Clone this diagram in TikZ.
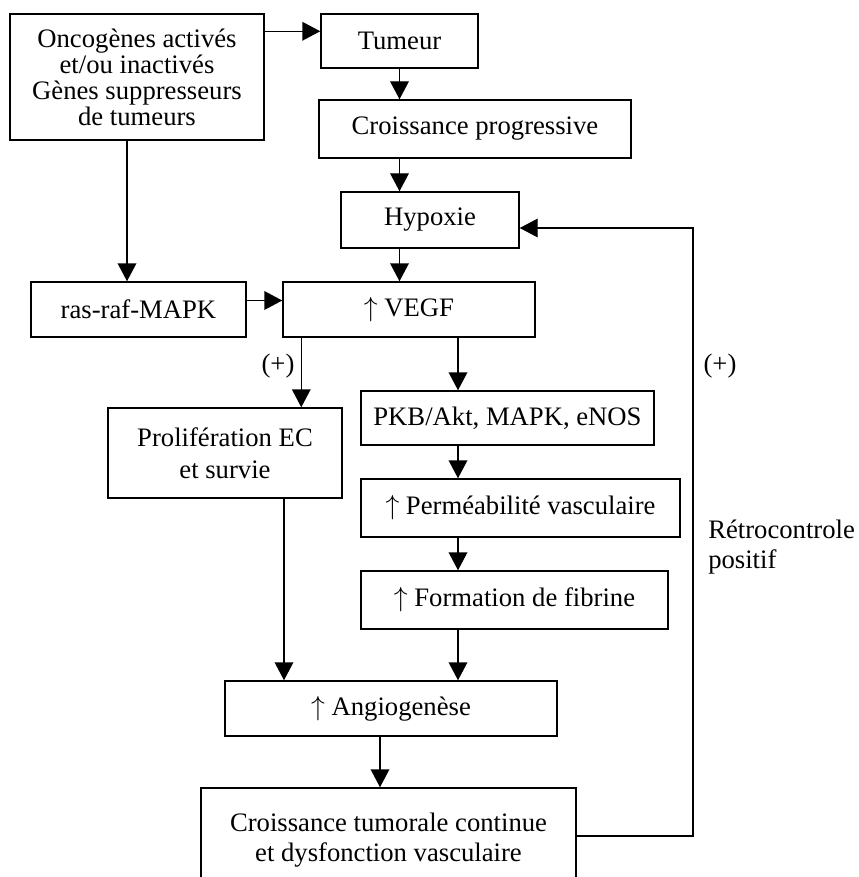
\documentclass[tikz,border=0pt]{standalone}
\usepackage{fontspec}
\setmainfont{Liberation Serif}
\usetikzlibrary{calc}
\usetikzlibrary{arrows.meta}

\begin{document}
\begin{tikzpicture}[x=0.75pt,y=-0.75pt,
        norm/.style={draw=black,rectangle,line width=1.1pt,inner sep=0pt,align=center,font=\fontsize{20}{19.5}\selectfont},
        arr/.style={-{Triangle[length=13.5pt,width=14pt]},line width=1.1pt},
        lbl/.style={inner sep=0pt,align=left,font=\fontsize{20}{22.5}\selectfont}
      ]
      \useasboundingbox (0,0) rectangle (859,877);
      \node[norm,minimum width=190.5pt,minimum height=94.5pt] (onc) at (137,77) {Oncogènes activés\\et/ou inactivés\\Gènes suppresseurs\\de tumeurs};
      \node[norm,minimum width=117.75pt,minimum height=40.5pt] (tum) at (399.5,41) {Tumeur};
      \node[norm,minimum width=234pt,minimum height=43.5pt] (crp) at (475,129) {Croissance progressive};
      \node[norm,minimum width=133.5pt,minimum height=42pt] (hyp) at (430,220) {Hypoxie};
      \node[norm,minimum width=161.25pt,minimum height=41.25pt] (ras) at (138.5,309.5) {ras-raf-MAPK};
      \node[norm,minimum width=189pt,minimum height=41.25pt] (vegf) at (409,309.5) {$\uparrow$ VEGF};
      \node[norm,minimum width=175.5pt,minimum height=67.5pt,font=\fontsize{20}{24}\selectfont] (pro) at (225,453) {Prolifération EC\\et survie};
      \node[norm,minimum width=219.75pt,minimum height=40.5pt] (pkb) at (507.5,418) {PKB/Akt, MAPK, eNOS};
      \node[norm,minimum width=239.25pt,minimum height=43.5pt] (perm) at (520.5,508) {$\uparrow$ Perméabilité vasculaire};
      \node[norm,minimum width=230.25pt,minimum height=43.5pt] (fib) at (514.5,600) {$\uparrow$ Formation de fibrine};
      \node[norm,minimum width=249pt,minimum height=41.25pt] (ang) at (391,708.5) {$\uparrow$ Angiogenèse};
      \node[norm,minimum width=281.25pt,minimum height=78pt,font=\fontsize{20}{23}\selectfont] (fin) at (388.5,840) {Croissance tumorale continue\\et dysfonction vasculaire};
      % Labels.
      \node[lbl] (p1) at (278,366) {(+)};
      \node[lbl] (p2) at (720,366) {(+)};
      \node[lbl,anchor=west] (retro) at (708,547) {Rétrocontrole\\positif};
      % Connections.
      \draw[arr] ($(onc.north east)+(0,18)$) coordinate (o1) -- (o1 -| tum.west);
      \draw[arr] (tum.south) -- (tum.south |- crp.north);
      \draw[arr] (crp.south -| tum.south) -- (tum.south |- hyp.north);
      \draw[arr] (hyp.south -| tum.south) -- (tum.south |- vegf.north);
      \draw[arr] ($(onc.south)+(-10,0)$) coordinate (o2) -- (o2 |- ras.north);
      \draw[arr] ($(ras.east)+(0,-9)$) coordinate (r1) -- (r1 -| vegf.west);
      \draw[arr] ($(vegf.south west)+(19,0)$) coordinate (v1) -- (v1 |- pro.north);
      \draw[arr] ($(vegf.south)+(49,0)$) coordinate (v2) -- (v2 |- pkb.north);
      \draw[arr] (pkb.south -| v2) -- (v2 |- perm.north);
      \draw[arr] (perm.south -| v2) -- (v2 |- fib.north);
      \draw[arr] (fib.south -| v2) -- (v2 |- ang.north);
      \draw[arr] ($(pro.south)+(59,0)$) coordinate (p3) -- (p3 |- ang.north);
      \draw[arr] ($(ang.south)+(-11,0)$) coordinate (a1) -- (a1 |- fin.north);
      % Feedback loop.
      \coordinate (fb) at (693,836);
      \draw[arr] (fin.east |- fb) -- (fb) |- ($(hyp.east)+(0,8)$);
    \end{tikzpicture}
\end{document}
